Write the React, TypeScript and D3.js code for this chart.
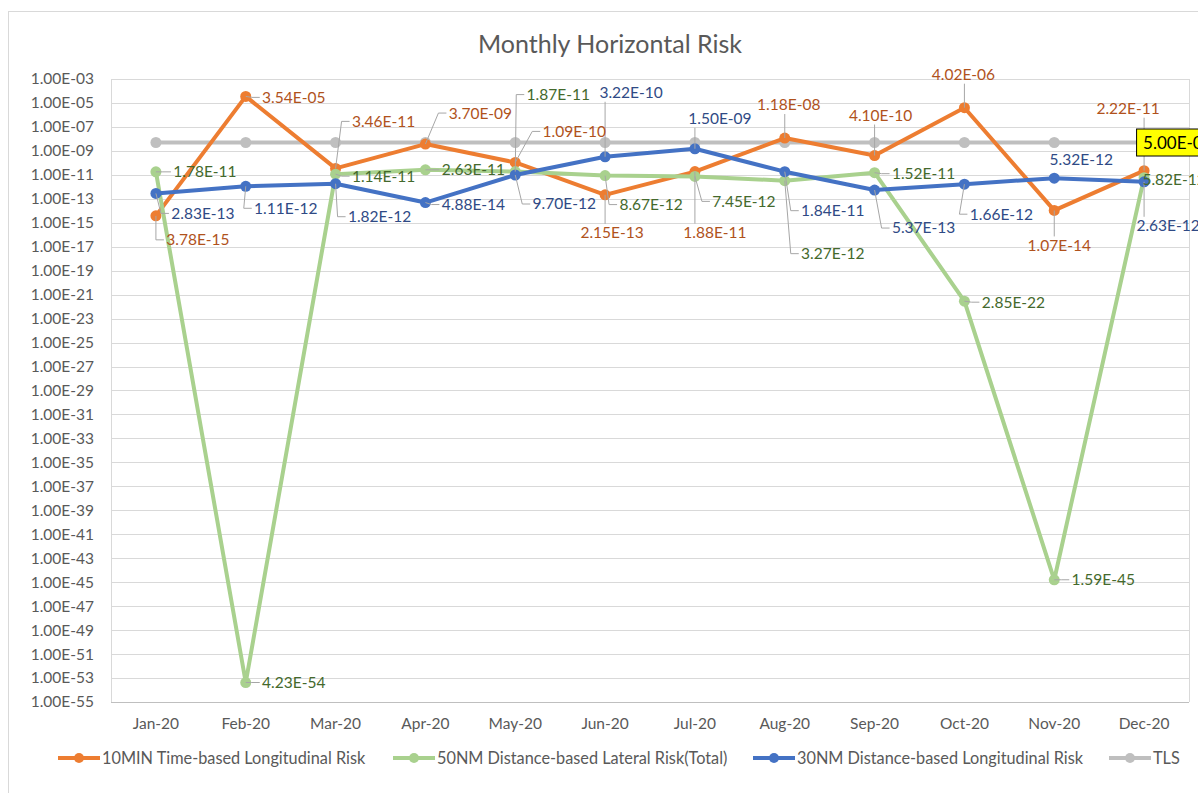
import React, { useEffect, useRef } from 'react';
import * as d3 from 'd3';

const months = ['Jan-20', 'Feb-20', 'Mar-20', 'Apr-20', 'May-20', 'Jun-20', 'Jul-20', 'Aug-20', 'Sep-20', 'Oct-20', 'Nov-20', 'Dec-20'];

const tenMinRisk = [3.78e-15, 3.54e-5, 3.46e-11, 3.70e-9, 1.09e-10, 2.15e-13, 1.88e-11, 1.18e-8, 4.10e-10, 4.02e-6, 1.07e-14, 2.22e-11];
const fiftyNmRisk = [1.78e-11, 4.23e-54, 1.14e-11, 2.63e-11, 1.87e-11, 8.67e-12, 7.45e-12, 3.27e-12, 1.52e-11, 2.85e-22, 1.59e-45, 5.82e-12];
const thirtyNmRisk = [2.83e-13, 1.11e-12, 1.82e-12, 4.88e-14, 9.70e-12, 3.22e-10, 1.50e-9, 1.84e-11, 5.37e-13, 1.66e-12, 5.32e-12, 2.63e-12];
const tlsRisk = [5e-9, 5e-9, 5e-9, 5e-9, 5e-9, 5e-9, 5e-9, 5e-9, 5e-9, 5e-9, 5e-9, 5e-9];

const yTickLabels = [
  '1.00E-03', '1.00E-05', '1.00E-07', '1.00E-09', '1.00E-11', '1.00E-13', '1.00E-15',
  '1.00E-17', '1.00E-19', '1.00E-21', '1.00E-23', '1.00E-25', '1.00E-27', '1.00E-29',
  '1.00E-31', '1.00E-33', '1.00E-35', '1.00E-37', '1.00E-39', '1.00E-41', '1.00E-43',
  '1.00E-45', '1.00E-47', '1.00E-49', '1.00E-51', '1.00E-53', '1.00E-55',
];

// where each data label sits relative to its point (px), as moved by hand in the original
const tenMinOffsets = [[42, 24], [48, 1], [48, -47], [55, -31], [59, -31], [7, 38], [20, 61], [4, -33], [6, -40], [-1, -33], [5, 35], [-16, -62]];
const fiftyNmOffsets = [[49, 0], [48, 0], [48, 2], [48, 0], [43, -77], [46, 29], [49, 25], [48, 73], [49, 1], [49, 1], [49, 0], [30, 2]];
const thirtyNmOffsets = [[47, 20], [40, 22], [44, 33], [48, 2], [49, 29], [26, -64], [25, -30], [48, 39], [49, 38], [37, 30], [27, -19], [24, 44]];

const fmt = (v: number) => {
  const [m, e] = v.toExponential(2).split('e');
  const n = Math.abs(+e);
  return `${m}E${+e < 0 ? '-' : '+'}${n < 10 ? '0' + n : n}`;
};

const FONT = 'Lato, "Open Sans", sans-serif';
const LABEL_SIZE = 15.5;

const App = () => {
  const svgRef = useRef<SVGSVGElement>(null);

  useEffect(() => {
    const W = 1198, H = 793;
    const svg = d3.select(svgRef.current).attr('width', W).attr('height', H);
    svg.selectAll('*').remove();

    const left = 111, right = 1189, top = 79, bottom = 702;

    const x = d3.scaleBand().domain(months).range([left, right]).padding(0);
    const cx = (i: number) => (x(months[i]) as number) + x.bandwidth() / 2;
    const y = d3.scaleLog().domain([1e-55, 1e-3]).range([bottom, top]);

    svg.append('rect').attr('width', W).attr('height', H).attr('fill', '#fff');
    svg.append('rect')
      .attr('x', 8.5).attr('y', 11.5).attr('width', W).attr('height', H)
      .attr('fill', 'none').attr('stroke', '#d9d9d9');

    svg.append('text')
      .attr('x', 610).attr('y', 53).attr('text-anchor', 'middle')
      .attr('font-family', FONT).attr('font-size', 25).attr('fill', '#595959')
      .text('Monthly Horizontal Risk');

    // gridlines + y labels
    const tickVals = yTickLabels.map(Number);
    svg.append('g').selectAll('line').data(tickVals).enter().append('line')
      .attr('x1', left).attr('x2', right)
      .attr('y1', (d) => Math.round(y(d)) + 0.5).attr('y2', (d) => Math.round(y(d)) + 0.5)
      .attr('stroke', '#d9d9d9');
    svg.append('line').attr('x1', left + 0.5).attr('x2', left + 0.5).attr('y1', top).attr('y2', bottom).attr('stroke', '#d9d9d9');
    svg.append('line').attr('x1', right + 0.5).attr('x2', right + 0.5).attr('y1', top).attr('y2', bottom).attr('stroke', '#d9d9d9');
    svg.append('line').attr('x1', left).attr('x2', right).attr('y1', bottom + 0.5).attr('y2', bottom + 0.5).attr('stroke', '#bfbfbf');

    svg.append('g').selectAll('text').data(yTickLabels).enter().append('text')
      .attr('x', 94).attr('y', (d) => y(Number(d)))
      .attr('dy', '0.35em').attr('text-anchor', 'end')
      .attr('font-family', FONT).attr('font-size', LABEL_SIZE).attr('fill', '#595959')
      .text((d) => d);

    const xAxis = svg.append('g')
      .attr('transform', `translate(0, ${bottom})`)
      .call(d3.axisBottom(x).tickSize(0).tickPadding(16));
    xAxis.select('.domain').remove();
    xAxis.selectAll('text').attr('font-family', FONT).attr('font-size', LABEL_SIZE).attr('fill', '#595959');

    const series = [
      { name: '10MIN Time-based Longitudinal Risk', values: tenMinRisk, color: '#ed7d31', labelColor: '#b0521c', offsets: tenMinOffsets },
      { name: '50NM Distance-based Lateral Risk(Total)', values: fiftyNmRisk, color: '#a9d18e', labelColor: '#44692c', offsets: fiftyNmOffsets },
      { name: '30NM Distance-based Longitudinal Risk', values: thirtyNmRisk, color: '#4472c4', labelColor: '#2f4a85', offsets: thirtyNmOffsets },
      { name: 'TLS', values: tlsRisk, color: '#bfbfbf', labelColor: '#000', offsets: null },
    ];

    const line = d3.line<number>().x((_, i) => cx(i)).y((d) => y(d));

    // TLS first (drawn under), then the others in order
    const order = [3, 0, 1, 2];
    order.forEach((si) => {
      const s = series[si];
      svg.append('path').datum(s.values)
        .attr('d', line).attr('fill', 'none')
        .attr('stroke', s.color).attr('stroke-width', 4).attr('stroke-linejoin', 'round');
      svg.append('g').selectAll('circle').data(s.values).enter().append('circle')
        .attr('cx', (_, i) => cx(i)).attr('cy', (d) => y(d)).attr('r', 5.5)
        .attr('fill', s.color);
    });

    // data labels with leader lines
    const labelW = 64, labelH = 16;
    const leaders = svg.append('g');
    const labels = svg.append('g');
    [0, 1, 2].forEach((si) => {
      const s = series[si];
      s.values.forEach((v, i) => {
        const px = cx(i), py = y(v);
        const [dx, dy] = (s.offsets as number[][])[i];
        const lx = px + dx, ly = py + dy;
        const x0 = lx - labelW / 2, x1 = lx + labelW / 2, y0 = ly - labelH / 2, y1 = ly + labelH / 2;
        const ddx = Math.max(x0 - px, 0, px - x1);
        const ddy = Math.max(y0 - py, 0, py - y1);
        if (Math.hypot(ddx, ddy) > 14) {
          let pts: [number, number][];
          if (px < x0 - 2) pts = [[px, py], [x0 - 10, ly], [x0 - 2, ly]];
          else if (px > x1 + 2) pts = [[px, py], [x1 + 10, ly], [x1 + 2, ly]];
          else pts = [[px, py], [px, py < ly ? y0 - 1 : y1 + 1]];
          leaders.append('path').attr('d', d3.line()(pts))
            .attr('fill', 'none').attr('stroke', '#a6a6a6').attr('stroke-width', 1);
        }
        labels.append('text')
          .attr('x', lx).attr('y', ly).attr('dy', '0.35em').attr('text-anchor', 'middle')
          .attr('font-family', FONT).attr('font-size', LABEL_SIZE).attr('fill', s.labelColor)
          .text(fmt(v));
      });
    });

    // TLS label on the last month
    const tIdx = tlsRisk.length - 1;
    const tx = cx(tIdx) - 8, ty = y(tlsRisk[tIdx]);
    svg.append('rect').attr('x', tx + 0.5).attr('y', ty - 13.5).attr('width', 74).attr('height', 27)
      .attr('fill', '#ffff00').attr('stroke', '#000');
    svg.append('text').attr('x', tx + 7).attr('y', ty + 1).attr('dy', '0.35em')
      .attr('font-family', FONT).attr('font-size', 17).attr('fill', '#000')
      .text(fmt(tlsRisk[tIdx]));

    // legend
    const legendX = [58, 393, 753, 1109];
    const legendY = 758;
    series.forEach((s, i) => {
      const g = svg.append('g').attr('transform', `translate(${legendX[i]}, ${legendY})`);
      g.append('line').attr('x1', 0).attr('x2', 42).attr('y1', 0).attr('y2', 0)
        .attr('stroke', s.color).attr('stroke-width', 4);
      g.append('circle').attr('cx', 21).attr('cy', 0).attr('r', 5).attr('fill', s.color);
      g.append('text').attr('x', 44).attr('y', 0).attr('dy', '0.35em')
        .attr('font-family', FONT).attr('font-size', 16.3).attr('fill', '#595959')
        .text(s.name);
    });
  }, []);

  return (
    <div style={{ position: 'fixed', left: 0, top: 0 }}>
      <svg ref={svgRef}></svg>
    </div>
  );
};

export default App;
